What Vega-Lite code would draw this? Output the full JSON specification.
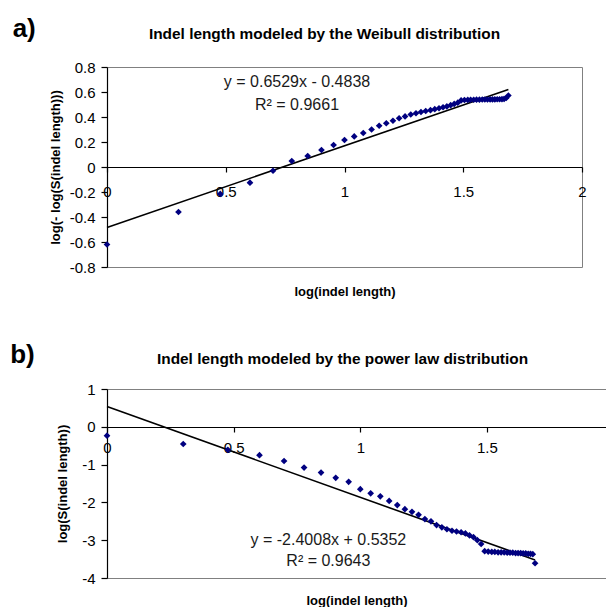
{
  "$schema": "https://vega.github.io/schema/vega-lite/v6.json",
  "background": "white",
  "padding": {"left": 10, "top": 16, "right": 0, "bottom": 0},
  "spacing": 43,
  "config": {
    "font": "Liberation Sans",
    "view": {"stroke": "#808080", "strokeWidth": 1},
    "axis": {"grid": false, "labelFont": "Liberation Sans", "labelFontSize": 15, "labelColor": "#000", "titleFont": "Liberation Sans", "titleFontSize": 13, "titleFontWeight": "bold", "titleColor": "#000", "domainColor": "#000", "tickColor": "#000", "domainWidth": 1.2, "tickWidth": 1.2, "labelExpr": "replace(datum.label, '−', '-')"},
    "title": {"font": "Liberation Sans", "color": "#000"}
  },
  "datasets": {
    "weibull": [
      {"x": 0, "y": -0.62}, {"x": 0.301, "y": -0.36}, {"x": 0.477, "y": -0.215}, {"x": 0.602, "y": -0.125},
      {"x": 0.699, "y": -0.03}, {"x": 0.778, "y": 0.048}, {"x": 0.845, "y": 0.088}, {"x": 0.903, "y": 0.136},
      {"x": 0.954, "y": 0.176}, {"x": 1.0, "y": 0.216}, {"x": 1.041, "y": 0.245}, {"x": 1.079, "y": 0.272},
      {"x": 1.114, "y": 0.3}, {"x": 1.146, "y": 0.33}, {"x": 1.176, "y": 0.35}, {"x": 1.204, "y": 0.37},
      {"x": 1.23, "y": 0.39}, {"x": 1.255, "y": 0.405}, {"x": 1.279, "y": 0.42}, {"x": 1.301, "y": 0.43},
      {"x": 1.322, "y": 0.44}, {"x": 1.342, "y": 0.448}, {"x": 1.362, "y": 0.455}, {"x": 1.38, "y": 0.463},
      {"x": 1.398, "y": 0.47}, {"x": 1.415, "y": 0.478}, {"x": 1.431, "y": 0.485}, {"x": 1.447, "y": 0.495},
      {"x": 1.462, "y": 0.505}, {"x": 1.477, "y": 0.515}, {"x": 1.491, "y": 0.533}, {"x": 1.505, "y": 0.536},
      {"x": 1.519, "y": 0.537}, {"x": 1.531, "y": 0.538}, {"x": 1.544, "y": 0.538}, {"x": 1.556, "y": 0.539},
      {"x": 1.568, "y": 0.539}, {"x": 1.58, "y": 0.54}, {"x": 1.591, "y": 0.54}, {"x": 1.602, "y": 0.54},
      {"x": 1.613, "y": 0.541}, {"x": 1.623, "y": 0.541}, {"x": 1.633, "y": 0.541}, {"x": 1.643, "y": 0.542},
      {"x": 1.653, "y": 0.542}, {"x": 1.663, "y": 0.543}, {"x": 1.672, "y": 0.545}, {"x": 1.681, "y": 0.552},
      {"x": 1.69, "y": 0.572}
    ],
    "power": [
      {"x": 0, "y": -0.235}, {"x": 0.301, "y": -0.455}, {"x": 0.477, "y": -0.61}, {"x": 0.602, "y": -0.75},
      {"x": 0.699, "y": -0.905}, {"x": 0.778, "y": -1.08}, {"x": 0.845, "y": -1.21}, {"x": 0.903, "y": -1.35},
      {"x": 0.954, "y": -1.455}, {"x": 1.0, "y": -1.65}, {"x": 1.041, "y": -1.76}, {"x": 1.079, "y": -1.84},
      {"x": 1.114, "y": -1.96}, {"x": 1.146, "y": -2.07}, {"x": 1.176, "y": -2.18}, {"x": 1.204, "y": -2.25},
      {"x": 1.23, "y": -2.33}, {"x": 1.255, "y": -2.44}, {"x": 1.279, "y": -2.5}, {"x": 1.301, "y": -2.6},
      {"x": 1.322, "y": -2.66}, {"x": 1.342, "y": -2.71}, {"x": 1.362, "y": -2.75}, {"x": 1.38, "y": -2.77},
      {"x": 1.398, "y": -2.79}, {"x": 1.415, "y": -2.82}, {"x": 1.431, "y": -2.87}, {"x": 1.447, "y": -2.92},
      {"x": 1.462, "y": -3.0}, {"x": 1.477, "y": -3.1}, {"x": 1.491, "y": -3.29}, {"x": 1.505, "y": -3.3},
      {"x": 1.519, "y": -3.31}, {"x": 1.531, "y": -3.31}, {"x": 1.544, "y": -3.32}, {"x": 1.556, "y": -3.32},
      {"x": 1.568, "y": -3.32}, {"x": 1.58, "y": -3.33}, {"x": 1.591, "y": -3.33}, {"x": 1.602, "y": -3.33},
      {"x": 1.613, "y": -3.34}, {"x": 1.623, "y": -3.34}, {"x": 1.633, "y": -3.34}, {"x": 1.643, "y": -3.35},
      {"x": 1.653, "y": -3.35}, {"x": 1.663, "y": -3.36}, {"x": 1.672, "y": -3.36}, {"x": 1.681, "y": -3.37},
      {"x": 1.69, "y": -3.61}
    ],
    "fitA": [{"x": 0, "y": -0.4838}, {"x": 1.69, "y": 0.6196}],
    "fitB": [{"x": 0, "y": 0.5352}, {"x": 1.69, "y": -3.5222}],
    "notesA": [{"x": 0.8, "y": 0.68, "label": "y = 0.6529x - 0.4838"}, {"x": 0.8, "y": 0.495, "label": "R² = 0.9661"}],
    "notesB": [{"x": 0.874, "y": -2.99, "label": "y = -2.4008x + 0.5352"}, {"x": 0.874, "y": -3.55, "label": "R² = 0.9643"}]
  },
  "vconcat": [
    {
      "title": {"text": "a)", "anchor": "start", "fontSize": 26, "fontWeight": "bold", "dx": -36, "dy": 20},
      "vconcat": [
        {
          "width": 475,
          "height": 200,
          "title": {"text": "Indel length modeled by the Weibull distribution", "fontSize": 15.4, "fontWeight": "bold", "anchor": "middle", "offset": 18, "dx": -20},
          "encoding": {
            "x": {"field": "x", "type": "quantitative", "scale": {"domain": [0, 2], "nice": false, "zero": false},
              "axis": {"title": "log(indel length)", "offset": -100, "values": [0, 0.5, 1, 1.5, 2], "format": "~g", "tickSize": 5, "labelPadding": 12, "titleY": 118, "labelFlush": false}},
            "y": {"field": "y", "type": "quantitative", "scale": {"domain": [-0.8, 0.8], "nice": false, "zero": false},
              "axis": {"title": "log(- log(S(indel length)))", "values": [-0.8, -0.6, -0.4, -0.2, 0, 0.2, 0.4, 0.6, 0.8], "format": "~g", "tickSize": 6, "labelPadding": 6, "titlePadding": 7}}
          },
          "layer": [
            {"data": {"name": "fitA"}, "mark": {"type": "line", "color": "#000", "strokeWidth": 1.6}, "encoding": {}},
            {"data": {"name": "weibull"}, "mark": {"type": "point", "shape": "diamond", "filled": true, "color": "#000080", "size": 45, "opacity": 1}, "encoding": {}},
            {"data": {"name": "notesA"}, "mark": {"type": "text", "fontSize": 16, "color": "#1a1a1a"}, "encoding": {"text": {"field": "label", "type": "nominal"}}}
          ]
        }
      ]
    },
    {
      "title": {"text": "b)", "anchor": "start", "fontSize": 26, "fontWeight": "bold", "dx": -46, "dy": 21},
      "vconcat": [
        {
          "width": 499,
          "height": 189,
          "title": {"text": "Indel length modeled by the power law distribution", "fontSize": 15.4, "fontWeight": "bold", "anchor": "middle", "offset": 15, "dx": -14},
          "encoding": {
            "x": {"field": "x", "type": "quantitative", "scale": {"domain": [0, 1.97], "nice": false, "zero": false},
              "axis": {"title": "log(indel length)", "offset": -151, "values": [0, 0.5, 1, 1.5], "format": "~g", "tickSize": 5, "labelPadding": 8, "titleY": 167, "labelFlush": false}},
            "y": {"field": "y", "type": "quantitative", "scale": {"domain": [-4, 1], "nice": false, "zero": false},
              "axis": {"title": "log(S(indel length))", "values": [-4, -3, -2, -1, 0, 1], "format": "~g", "tickSize": 6, "labelPadding": 6, "titlePadding": 12}}
          },
          "layer": [
            {"data": {"name": "fitB"}, "mark": {"type": "line", "color": "#000", "strokeWidth": 1.6}, "encoding": {}},
            {"data": {"name": "power"}, "mark": {"type": "point", "shape": "diamond", "filled": true, "color": "#000080", "size": 45, "opacity": 1}, "encoding": {}},
            {"data": {"name": "notesB"}, "mark": {"type": "text", "fontSize": 16, "color": "#1a1a1a"}, "encoding": {"text": {"field": "label", "type": "nominal"}}}
          ]
        }
      ]
    }
  ]
}
